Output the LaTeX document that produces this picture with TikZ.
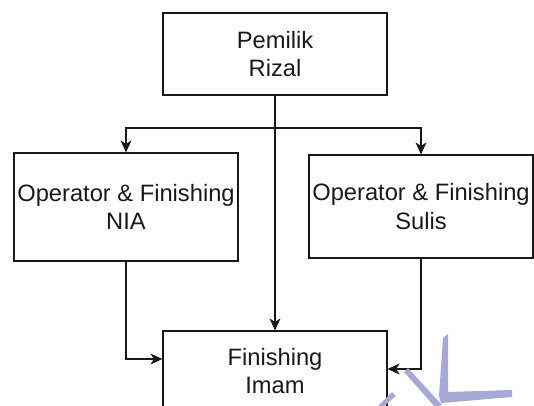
\documentclass[tikz,border=0pt]{standalone}
\usepackage{fontspec}
\setmainfont{Liberation Sans}
\usetikzlibrary{arrows.meta,calc}
\definecolor{ink}{RGB}{25,25,25}
\definecolor{mark}{RGB}{168,168,214}
\begin{document}
\begin{tikzpicture}[x=1pt,y=-1pt,
  box/.style={draw=ink,line width=1.2pt,rectangle,align=center,inner sep=0pt,
    minimum width=224pt,font=\fontsize{23.7}{28.5}\selectfont,text=ink},
  conn/.style={draw=ink,line width=1.2pt,
    -{Stealth[length=12pt,width=11pt,inset=3.5pt]}},
  wmark/.style={fill=mark,draw=none}]
  \useasboundingbox (0,0) rectangle (534,405);
  \clip (0,0) rectangle (534,405);

  % boxes
  \node[box,minimum height=82pt]  (top)   at (275,54)  {Pemilik\\Rizal};
  \node[box,minimum height=108pt] (nia)   at (126,207) {Operator \& Finishing\\NIA};
  \node[box,minimum height=103pt] (sulis) at (421,206.5) {Operator \& Finishing\\Sulis};
  \node[box,minimum height=80pt]  (imam)  at (275,371) {Finishing\\Imam};

  % branching line
  \coordinate (bus) at (275,128);
  \coordinate (inL) at ([yshift=12pt]imam.west);
  \coordinate (inR) at ([yshift=2pt]imam.east);

  \draw[conn] (top.south) -- (imam.north);
  \draw[conn] (bus) -| (nia.north);
  \draw[conn] (bus) -| (sulis.north);
  \draw[conn] (nia.south) |- (inL);
  \draw[conn] (sulis.south) |- (inR);

  % light watermark strokes
  \fill[wmark] (377,407) -- (383,407) -- (396,396) -- (392,392) -- cycle;
  \fill[wmark] (404,372) -- (408,368) -- (442,405) -- (435,407) -- cycle;
  \fill[wmark] (443,338) -- (448,334) -- (448,392) -- (512,390) -- (512,397)
    -- (441,403) -- (439,396) -- cycle;
\end{tikzpicture}
\end{document}
